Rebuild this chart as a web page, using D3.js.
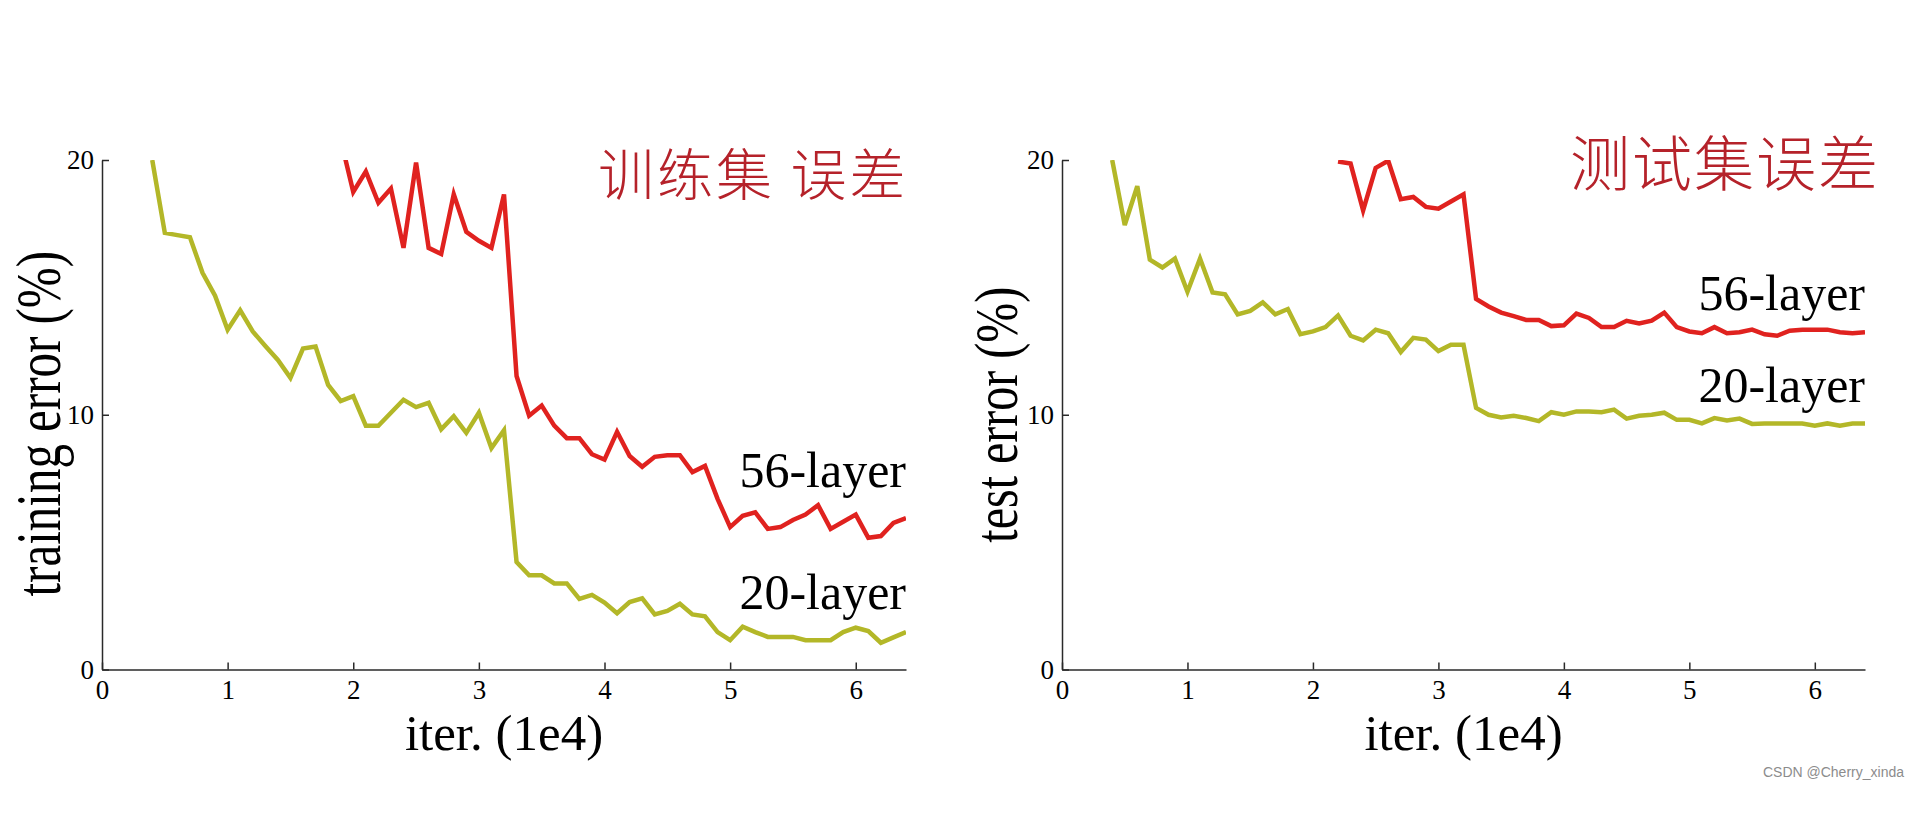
<!DOCTYPE html>
<html>
<head>
<meta charset="utf-8">
<script src="https://cdn.jsdelivr.net/npm/d3@7/dist/d3.min.js"></script>
<style>
    body { margin: 0; background: #fff; }
    .axis path, .axis line { stroke: #2a2a2a; stroke-width: 1.5; }
    .axis text { font-family: "Liberation Serif", "Times New Roman", serif; font-size: 27px; fill: #000; }
    .axis-title { font-family: "Liberation Serif", "Times New Roman", serif; font-size: 51px; fill: #000; }
    .series-label { font-family: "Liberation Serif", "Times New Roman", serif; font-size: 50px; fill: #000; }
    .hand-title { font-family: "Noto Sans CJK SC", sans-serif; font-weight: 300; fill: #b5222a; }
    .watermark { font-family: "Liberation Sans", Arial, sans-serif; font-size: 14px; fill: #8c8c8c; }
</style>
</head>
<body>
<div id="chart"></div>
<script>

// iterations (1e4) sampled in the curves
const iters = [0.4, 0.5, 0.6, 0.7, 0.8, 0.9, 1.0, 1.1, 1.2, 1.3, 1.4, 1.5, 1.6, 1.7, 1.8, 1.9,
    2.0, 2.1, 2.2, 2.3, 2.4, 2.5, 2.6, 2.7, 2.8, 2.9, 3.0, 3.1, 3.2, 3.3, 3.4, 3.5, 3.6, 3.7,
    3.8, 3.9, 4.0, 4.1, 4.2, 4.3, 4.4, 4.5, 4.6, 4.7, 4.8, 4.9, 5.0, 5.1, 5.2, 5.3, 5.4, 5.5,
    5.6, 5.7, 5.8, 5.9, 6.0, 6.1, 6.2, 6.3, 6.4];

const xTicks = [0, 1, 2, 3, 4, 5, 6];
const yTicks = [0, 10, 20];

// training error (%)
const train20 = [20.0, 17.14, 17.05, 16.97, 15.57, 14.67, 13.34, 14.1, 13.27, 12.7, 12.15, 11.45,
    12.6, 12.68, 11.17, 10.54, 10.73, 9.57, 9.57, 10.08, 10.59, 10.3, 10.47, 9.43, 9.94, 9.29,
    10.08, 8.69, 9.39, 4.22, 3.7, 3.7, 3.38, 3.38, 2.77, 2.93, 2.63, 2.21, 2.65, 2.79, 2.16,
    2.3, 2.58, 2.16, 2.09, 1.47, 1.15, 1.68, 1.47, 1.28, 1.28, 1.28, 1.15, 1.15, 1.15, 1.47,
    1.64, 1.51, 1.05, 1.26, 1.47];
// 56-layer curve starts at 1.9 (first point is above the 20% limit and gets clipped)
const train56Iters = iters.slice(15);
const train56 = [20.8, 18.75, 19.55, 18.32, 18.88, 16.55, 19.9, 16.55, 16.31, 18.65, 17.18, 16.83,
    16.55, 18.65, 11.52, 9.96, 10.36, 9.57, 9.08, 9.08, 8.45, 8.24, 9.33, 8.38, 7.96, 8.35,
    8.41, 8.41, 7.75, 7.99, 6.7, 5.59, 6.03, 6.17, 5.52, 5.59, 5.87, 6.08, 6.45, 5.52, 5.8,
    6.08, 5.17, 5.24, 5.75, 5.94];

// test error (%)
const test20 = [20.0, 17.45, 18.97, 16.09, 15.78, 16.13, 14.83, 16.13, 14.8, 14.73, 13.94, 14.08,
    14.41, 13.94, 14.15, 13.16, 13.27, 13.44, 13.9, 13.1, 12.92, 13.34, 13.2, 12.46, 13.02,
    12.95, 12.5, 12.75, 12.75, 10.27, 10.0, 9.89, 9.96, 9.87, 9.75, 10.1, 10.0, 10.13, 10.13,
    10.1, 10.2, 9.85, 9.96, 10.0, 10.08, 9.8, 9.8, 9.66, 9.87, 9.78, 9.85, 9.64, 9.66, 9.66,
    9.66, 9.66, 9.57, 9.66, 9.57, 9.66, 9.66];
const test56Iters = iters.slice(18);
const test56 = [19.94, 19.86, 18.02, 19.69, 19.97, 18.46, 18.55, 18.16, 18.09, 18.37, 18.65, 14.55,
    14.25, 14.01, 13.87, 13.72, 13.72, 13.48, 13.51, 13.97, 13.8, 13.44, 13.44, 13.69, 13.58,
    13.69, 14.01, 13.44, 13.27, 13.2, 13.44, 13.2, 13.24, 13.34, 13.16, 13.1, 13.3, 13.34,
    13.34, 13.34, 13.24, 13.2, 13.24];

const colors = {layer20: "#b3b728", layer56: "#e0221f"};


class ErrorChart {

    constructor(svg, config) {
        this.svg = svg;
        this.config = config;
        this.initVis();
    }

    initVis() {
        let vis = this;
        let c = vis.config;

        vis.width = c.width;
        vis.height = c.height;

        vis.g = vis.svg.append("g")
            .attr("transform", "translate(" + c.left + "," + c.top + ")");

        vis.x = d3.scaleLinear()
            .domain([0, 6.4])
            .range([0, vis.width]);

        vis.y = d3.scaleLinear()
            .domain([0, 20])
            .range([vis.height, 0]);

        vis.xAxis = d3.axisBottom(vis.x)
            .tickValues(xTicks)
            .tickFormat(d3.format("d"))
            .tickSizeInner(-7)
            .tickSizeOuter(0)
            .tickPadding(10);

        vis.yAxis = d3.axisLeft(vis.y)
            .tickValues(yTicks)
            .tickFormat(d3.format("d"))
            .tickSizeInner(-7)
            .tickSizeOuter(0)
            .tickPadding(8);

        vis.g.append("clipPath")
            .attr("id", c.id + "-clip")
            .append("rect")
            .attr("x", -5)
            .attr("y", 0)
            .attr("width", vis.width + 5)
            .attr("height", vis.height);

        vis.g.append("g")
            .attr("class", "x-axis axis")
            .attr("transform", "translate(0," + vis.height + ")")
            .call(vis.xAxis);

        vis.g.append("g")
            .attr("class", "y-axis axis")
            .call(vis.yAxis);

        vis.g.selectAll(".axis .domain").attr("fill", "none");

        // axis titles
        vis.g.append("text")
            .attr("class", "axis-title")
            .attr("text-anchor", "middle")
            .attr("x", vis.width / 2)
            .attr("y", 80)
            .attr("transform", "translate(0," + vis.height + ")")
            .text("iter. (1e4)");

        // the y title is drawn a bit stretched, like in the original figure
        vis.g.append("text")
            .attr("class", "axis-title")
            .attr("text-anchor", "middle")
            .style("font-size", c.yTitleSize + "px")
            .attr("transform", "translate(" + c.yTitleX + "," + (vis.height / 2 + c.yTitleShift) + ") rotate(-90) scale(1,1.28)")
            .text(c.yTitle);

        vis.line = d3.line()
            .x(d => vis.x(d.iter))
            .y(d => vis.y(d.err));

        vis.updateVis();
    }

    updateVis() {
        let vis = this;
        let c = vis.config;

        vis.paths = vis.g.append("g")
            .attr("clip-path", "url(#" + c.id + "-clip)")
            .selectAll("path.curve")
            .data(c.series);

        vis.paths.enter()
            .append("path")
            .attr("class", "curve")
            .attr("fill", "none")
            .attr("stroke", d => d.color)
            .attr("stroke-width", 4.5)
            .attr("stroke-linejoin", "miter")
            .attr("d", d => vis.line(d.iters.map((it, i) => ({iter: it, err: d.values[i]}))));

        vis.g.selectAll("text.series-label")
            .data(c.series)
            .enter()
            .append("text")
            .attr("class", "series-label")
            .attr("text-anchor", "end")
            .attr("x", vis.width)
            .attr("y", d => d.labelY)
            .text(d => d.name);

        vis.g.append("text")
            .attr("class", "hand-title")
            .attr("x", c.titleX)
            .attr("y", c.titleY)
            .style("font-size", c.titleSize + "px")
            .style("letter-spacing", c.titleSpacing + "px")
            .text(c.title);
    }
}


const svg = d3.select("#chart").append("svg")
    .attr("width", 1920)
    .attr("height", 814);

svg.append("rect")
    .attr("width", 1920)
    .attr("height", 814)
    .attr("fill", "#fff");

new ErrorChart(svg, {
    id: "train",
    left: 102, top: 160, width: 804, height: 509.5,
    yTitle: "training error (%)", yTitleX: -42, yTitleSize: 49, yTitleShift: 9,
    title: "训练集 误差", titleX: 496, titleY: 35, titleSize: 56, titleSpacing: 3,
    series: [
        {name: "56-layer", iters: train56Iters, values: train56, color: colors.layer56, labelY: 327},
        {name: "20-layer", iters: iters, values: train20, color: colors.layer20, labelY: 449}
    ]
});

new ErrorChart(svg, {
    id: "test",
    left: 1062, top: 160, width: 803, height: 509.5,
    yTitle: "test error (%)", yTitleX: -45, yTitleSize: 48, yTitleShift: 0,
    title: "测试集误差", titleX: 508, titleY: 26, titleSize: 60, titleSpacing: 2,
    series: [
        {name: "56-layer", iters: test56Iters, values: test56, color: colors.layer56, labelY: 150},
        {name: "20-layer", iters: iters, values: test20, color: colors.layer20, labelY: 242}
    ]
});

svg.append("text")
    .attr("class", "watermark")
    .attr("x", 1904)
    .attr("y", 777)
    .attr("text-anchor", "end")
    .text("CSDN @Cherry_xinda");

</script>
</body>
</html>
